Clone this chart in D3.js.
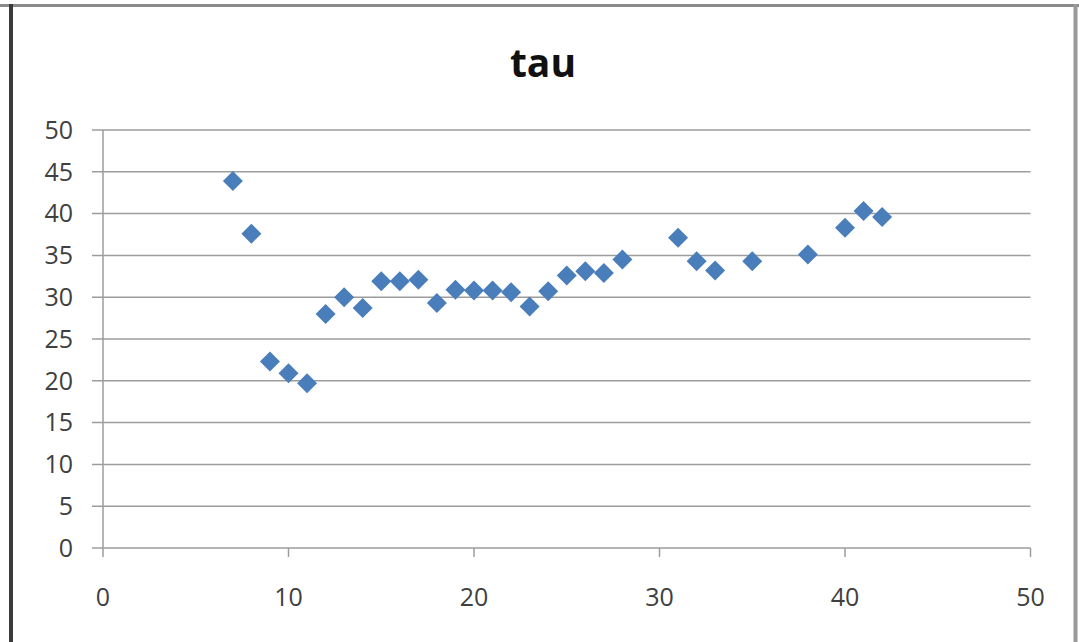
<!DOCTYPE html>
<html>
<head>
<meta charset="utf-8">
<script src="https://cdn.jsdelivr.net/npm/d3@7"></script>
<style>
  html, body { margin: 0; padding: 0; background: #fff; }
  svg { display: block; }
</style>
</head>
<body>
<svg id="chart" width="1079" height="642"></svg>
<script>
const title = "tau";
const xValues = [7, 8, 9, 10, 11, 12, 13, 14, 15, 16, 17, 18, 19, 20, 21, 22, 23, 24, 25, 26, 27, 28, 31, 32, 33, 35, 38, 40, 41, 42];
const tauValues = [43.9, 37.6, 22.3, 20.9, 19.7, 28.0, 30.0, 28.7, 31.9, 31.9, 32.1, 29.3, 30.9, 30.8, 30.8, 30.6, 28.9, 30.7, 32.6, 33.1, 32.9, 34.5, 37.1, 34.3, 33.2, 34.3, 35.1, 38.3, 40.3, 39.6];
const xTicks = [0, 10, 20, 30, 40, 50];
const yTicks = [0, 5, 10, 15, 20, 25, 30, 35, 40, 45, 50];

const svg = d3.select("#chart");
const W = 1079, H = 642;

// outer frame
svg.append("line").attr("x1", 0).attr("x2", W).attr("y1", 5.5).attr("y2", 5.5)
  .attr("stroke", "#8a8a8a").attr("stroke-width", 3);
svg.append("line").attr("x1", 1075.5).attr("x2", 1075.5).attr("y1", 4).attr("y2", H)
  .attr("stroke", "#9a9a9a").attr("stroke-width", 4);
svg.append("line").attr("x1", 11).attr("x2", 11).attr("y1", 4).attr("y2", H)
  .attr("stroke", "#3a3a3a").attr("stroke-width", 4);

const x = d3.scaleLinear().domain([0, 50]).range([103, 1030.5]);
const y = d3.scaleLinear().domain([0, 50]).range([548, 130]);

const gridColor = "#9c9c9c";
const textColor = "#404040";
const font = "'Open Sans', 'Liberation Sans', sans-serif";

// horizontal gridlines with left ticks
svg.append("g").selectAll("line").data(yTicks).join("line")
  .attr("x1", 92).attr("x2", x(50))
  .attr("y1", d => y(d)).attr("y2", d => y(d))
  .attr("stroke", gridColor).attr("stroke-width", 1.5);

// y axis line
svg.append("line").attr("x1", x(0)).attr("x2", x(0)).attr("y1", y(50)).attr("y2", y(0))
  .attr("stroke", gridColor).attr("stroke-width", 1.5);

// x tick marks
svg.append("g").selectAll("line").data(xTicks).join("line")
  .attr("x1", d => x(d)).attr("x2", d => x(d))
  .attr("y1", y(0)).attr("y2", y(0) + 9)
  .attr("stroke", gridColor).attr("stroke-width", 1.5);

// y tick labels
svg.append("g").selectAll("text").data(yTicks).join("text")
  .attr("x", 73).attr("y", d => y(d))
  .attr("dy", "0.35em")
  .attr("text-anchor", "end")
  .attr("font-family", font).attr("font-size", 25)
  .attr("fill", textColor)
  .text(d => d);

// x tick labels
svg.append("g").selectAll("text").data(xTicks).join("text")
  .attr("x", d => x(d)).attr("y", 606)
  .attr("text-anchor", "middle")
  .attr("font-family", font).attr("font-size", 25)
  .attr("fill", textColor)
  .text(d => d);

// title
svg.append("text")
  .attr("x", 543).attr("y", 77)
  .attr("text-anchor", "middle")
  .attr("font-family", font).attr("font-size", 39).attr("font-weight", "bold")
  .attr("fill", "#111")
  .text(title);

// points
const sym = d3.symbol().type(d3.symbolDiamond2).size(255);
svg.append("g").selectAll("path").data(xValues.map((v, i) => [v, tauValues[i]])).join("path")
  .attr("d", sym)
  .attr("transform", d => `translate(${x(d[0])},${y(d[1])})`)
  .attr("fill", "#4a7ebb");
</script>
</body>
</html>
